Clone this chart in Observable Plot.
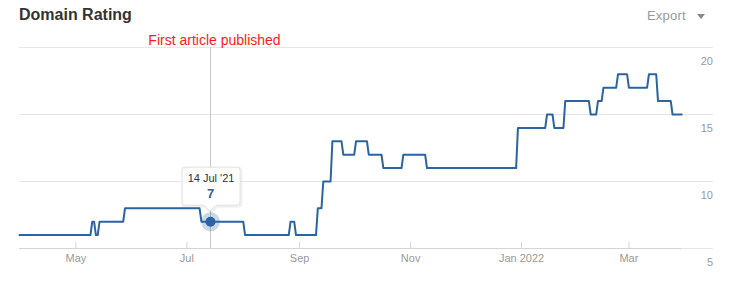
<!DOCTYPE html>
<html>
<head>
<meta charset="utf-8">
<script src="https://cdn.jsdelivr.net/npm/d3@7"></script>
<script src="https://cdn.jsdelivr.net/npm/@observablehq/plot@0.6"></script>
<style>
  html, body { margin: 0; padding: 0; background: #fff; }
  #wrap { position: relative; width: 732px; height: 286px; overflow: hidden; font-family: "Liberation Sans", Arial, sans-serif; }
  #chart { position: absolute; left: 0; top: 0; }
  #title { position: absolute; left: 19px; top: 7px; font-size: 16px; line-height: 16px; font-weight: bold; color: #333; }
  #export { position: absolute; left: 647px; top: 9px; font-size: 13px; line-height: 13px; color: #999; letter-spacing: 0.2px; }
  #tri { position: absolute; left: 697px; top: 14px; width: 0; height: 0; border-left: 4px solid transparent; border-right: 4px solid transparent; border-top: 5px solid #888; }
</style>
</head>
<body>
<div id="wrap">
  <div id="chart"></div>
  <div id="title">Domain Rating</div>
  <div id="export">Export</div>
  <div id="tri"></div>
</div>
<script>
// ---- data ----
const dates = [
  "2021-03-31","2021-05-09","2021-05-10","2021-05-11","2021-05-12","2021-05-13","2021-05-14",
  "2021-05-27","2021-05-28","2021-07-08","2021-07-09","2021-08-01","2021-08-02","2021-08-26",
  "2021-08-27","2021-08-29","2021-08-30","2021-09-10","2021-09-11","2021-09-13","2021-09-14",
  "2021-09-18","2021-09-19","2021-09-24","2021-09-25","2021-10-01","2021-10-02","2021-10-08",
  "2021-10-09","2021-10-16","2021-10-17","2021-10-27","2021-10-28","2021-11-09","2021-11-10",
  "2021-12-29","2021-12-30","2022-01-14","2022-01-15","2022-01-18","2022-01-19","2022-01-24",
  "2022-01-25","2022-02-07","2022-02-08","2022-02-11","2022-02-12","2022-02-14","2022-02-15",
  "2022-02-22","2022-02-23","2022-02-28","2022-03-01","2022-03-11","2022-03-12","2022-03-16",
  "2022-03-17","2022-03-24","2022-03-25","2022-03-30"
];
const ratings = [
  6,6,7,7,6,6,7,
  7,8,8,7,7,6,6,
  7,7,6,6,8,8,10,
  10,13,13,12,12,13,13,
  12,12,11,11,12,12,11,
  11,14,14,15,15,14,14,
  16,16,15,15,16,16,17,
  17,18,18,17,17,18,18,
  16,16,15,15
];
const yTicks = [5, 10, 15, 20];
const xTickDates = ["2021-05-01","2021-07-01","2021-09-01","2021-11-01","2022-01-01","2022-03-01"];
const xTickLabels = ["May","Jul","Sep","Nov","Jan 2022","Mar"];
const xDomain = ["2021-03-31","2022-04-16T12:00:00Z"];
const annotationDate = "2021-07-14";
const annotationText = "First article published";
const tooltipDate = "2021-07-14";
const tooltipLabel = "14 Jul '21";
const tooltipValue = 7;

// ---- build ----
const parse = s => new Date(s.length === 10 ? s + "T00:00:00Z" : s);
const points = dates.map((d, i) => ({date: parse(d), value: ratings[i]}));
const lineColor = "#2b64a0";
const dataStart = points[0].date, dataEnd = points[points.length - 1].date;
const xEnd = parse(xDomain[1]);

const tooltipMark = (index, scales) => {
  const px = scales.x(parse(tooltipDate)), py = scales.y(tooltipValue);
  const g = d3.create("svg:g");
  const cx = px + 1;
  const left = cx - 29, right = cx + 29, top = py - 54, bottom = py - 16;
  const r = 3;
  const d = `M${left + r},${top} H${right - r} Q${right},${top} ${right},${top + r} V${bottom - r} Q${right},${bottom} ${right - r},${bottom} H${px + 6} L${px},${bottom + 6} L${px - 6},${bottom} H${left + r} Q${left},${bottom} ${left},${bottom - r} V${top + r} Q${left},${top} ${left + r},${top} Z`;
  g.append("path").attr("d", d).attr("transform", "translate(1,1)")
    .attr("fill", "none").attr("stroke", "rgba(0,0,0,0.06)").attr("stroke-width", 3);
  g.append("path").attr("d", d).attr("fill", "rgba(255,255,255,0.96)").attr("stroke", "#e2e2e2");
  g.append("text").attr("x", cx).attr("y", py - 39.5).attr("text-anchor", "middle")
    .attr("font-size", 11).attr("fill", "#333").text(tooltipLabel);
  g.append("text").attr("x", px + 0.5).attr("y", py - 23.5).attr("text-anchor", "middle")
    .attr("font-size", 13).attr("font-weight", "bold").attr("fill", lineColor).text(String(tooltipValue));
  return g.node();
};

const chart = Plot.plot({
  width: 732,
  height: 286,
  marginLeft: 19,
  marginRight: 19,
  marginTop: 47,
  marginBottom: 38,
  style: {fontFamily: "'Liberation Sans', Arial, sans-serif", background: "white", overflow: "visible"},
  x: {type: "utc", domain: [parse(xDomain[0]), xEnd], axis: null},
  y: {domain: [5, 20], axis: null},
  marks: [
    Plot.ruleY(yTicks, {stroke: "#e6e6e6"}),
    Plot.ruleY([5], {x1: dataStart, x2: dataEnd, stroke: "#d4d4d4"}),
    Plot.ruleX(xTickDates, {x: d => parse(d), y1: 5, y2: 5, insetBottom: 6, stroke: "#d4d4d4"}),
    Plot.text(xTickLabels, {x: (d, i) => parse(xTickDates[i]), frameAnchor: "bottom", dy: 13.5, text: d => d, fill: "#999", fontSize: 11}),
    Plot.text(yTicks, {x: () => xEnd, y: d => d, text: d => String(d), textAnchor: "end", dy: 13.5, dx: -0.5, fill: "#999", fontSize: 11}),
    Plot.ruleX([parse(annotationDate)], {x: d => d, stroke: "#c8c8c8"}),
    Plot.text([annotationText], {x: () => parse(annotationDate), frameAnchor: "top", dy: -12, dx: 4, text: d => d, fill: "#ff1a1a", fontSize: 14}),
    Plot.line(points, {x: "date", y: "value", stroke: lineColor, strokeWidth: 2, strokeLinejoin: "round"}),
    Plot.dot([tooltipValue], {x: () => parse(tooltipDate), y: d => d, r: 9.5, fill: lineColor, fillOpacity: 0.25, stroke: "none"}),
    Plot.dot([tooltipValue], {x: () => parse(tooltipDate), y: d => d, r: 5, fill: lineColor, stroke: "none"}),
    tooltipMark
  ]
});
document.getElementById("chart").appendChild(chart);
</script>
</body>
</html>
